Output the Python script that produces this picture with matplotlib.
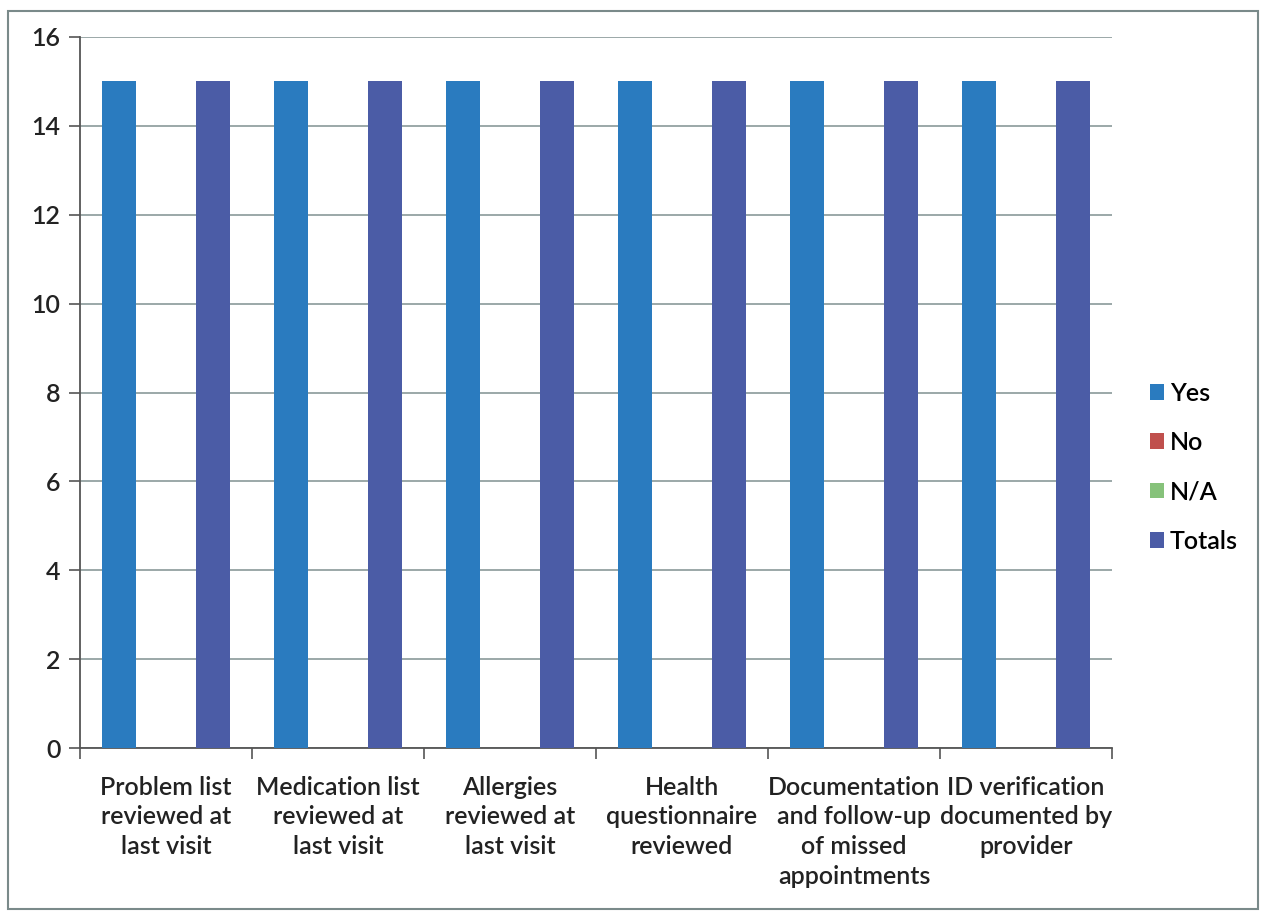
import numpy as np
import matplotlib
matplotlib.use("Agg")
import matplotlib.pyplot as plt
from matplotlib.patches import Rectangle

categories = [
    "Problem list\nreviewed at\nlast visit",
    "Medication list\nreviewed at\nlast visit",
    "Allergies\nreviewed at\nlast visit",
    "Health\nquestionnaire\nreviewed",
    "Documentation\nand follow-up\nof missed\nappointments",
    "ID verification\ndocumented by\nprovider",
]
series_names = ["Yes", "No", "N/A", "Totals"]
yes_vals = [15, 15, 15, 15, 15, 15]
no_vals = [0, 0, 0, 0, 0, 0]
na_vals = [0, 0, 0, 0, 0, 0]
total_vals = [15, 15, 15, 15, 15, 15]
colors = ["#2a7bbf", "#c0504d", "#86c27a", "#4b5ca6"]

plt.rcParams["font.family"] = ["Lato", "DejaVu Sans"]
plt.rcParams["font.weight"] = "semibold"

fig = plt.figure(figsize=(12.63, 9.15), dpi=100)
ax = fig.add_axes([80 / 1263, 1 - 748 / 915, 1032 / 1263, 711 / 915])

x = np.arange(len(categories))
step = 0.182
w = 0.198
all_vals = [yes_vals, no_vals, na_vals, total_vals]
for i, (name, vals, c) in enumerate(zip(series_names, all_vals, colors)):
    ax.bar(x + (i - 1.5) * step, vals, width=w, color=c, label=name, zorder=3)

ax.set_xlim(-0.5, len(categories) - 0.5)
ax.set_ylim(0, 16)
ax.set_yticks(range(0, 17, 2))
ax.yaxis.grid(True, color="#8a9a9a", linewidth=1.2, zorder=0)
ax.set_axisbelow(True)

ax.set_xticks(x)
ax.set_xticklabels(categories, fontsize=18, color="#222222", linespacing=1.35)
ax.tick_params(axis="x", length=0, pad=20)
ax.set_xticks(np.arange(-0.5, len(categories)), minor=True)
ax.tick_params(axis="x", which="minor", length=8, color="#555555", width=1.2)
ax.tick_params(axis="y", labelsize=18, labelcolor="#222222", length=8,
               color="#555555", width=1.2, pad=6)

for s in ["top", "right"]:
    ax.spines[s].set_visible(False)
for s in ["left", "bottom"]:
    ax.spines[s].set_color("#555555")
    ax.spines[s].set_linewidth(1.3)

ax.legend(loc="center left", bbox_to_anchor=(1.015, 0.395), frameon=False,
          fontsize=18, handlelength=0.55, handleheight=0.6,
          labelspacing=1.05, handletextpad=0.25)

fig.patches.append(Rectangle((8 / 1263, 6 / 915), 1250 / 1263, 898 / 915,
                             transform=fig.transFigure, fill=False,
                             edgecolor="#7a8a8a", linewidth=1.5))

fig.savefig("out.png", dpi=100)
